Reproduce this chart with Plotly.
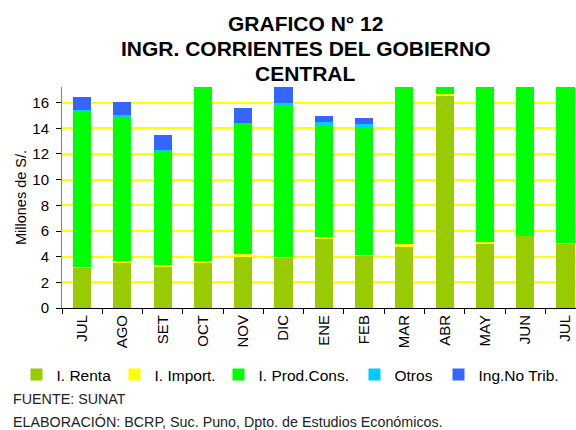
import plotly.graph_objects as go

months = ["JUL", "AGO", "SET", "OCT", "NOV", "DIC", "ENE", "FEB", "MAR", "ABR", "MAY", "JUN", "JUL"]
renta = [3.12, 3.51, 3.19, 3.51, 3.97, 3.90, 5.38, 4.10, 4.81, 16.52, 5.06, 5.61, 4.99]
importaciones = [0.05, 0.13, 0.16, 0.15, 0.24, 0.07, 0.15, 0.02, 0.15, 0.13, 0.08, 0.00, 0.07]
prod_cons = [12.23, 11.24, 8.86, 14.20, 10.15, 11.82, 8.68, 9.93, 13.50, 1.20, 13.00, 13.00, 13.00]
otros = [0.05, 0.16, 0.10, 0.20, 0.08, 0.18, 0.26, 0.26, 0.20, 0.20, 0.20, 0.20, 0.20]
no_trib = [0.99, 0.99, 1.14, 1.20, 1.12, 1.30, 0.49, 0.47, 1.10, 1.00, 1.00, 1.00, 1.00]
y_ticks = [0, 2, 4, 6, 8, 10, 12, 14, 16]

series = [
    ("I. Renta", renta, "#99CC00"),
    ("I. Import.", importaciones, "#FFFF00"),
    ("I. Prod.Cons.", prod_cons, "#00FF00"),
    ("Otros", otros, "#00CCFF"),
    ("Ing.No Trib.", no_trib, "#3366FF"),
]

W, H = 576, 430
ML, MR, MT, MB = 62, 0, 87, 122
PW, PH = W - ML - MR, H - MT - MB

def px_x(x):
    return (x - ML) / PW

def px_y(y):
    return (H - MB - y) / PH

FONT = "Arial, Liberation Sans, sans-serif"
legend_x = [16.5, 114.5, 218.5, 354.5, 438.5]

x = list(range(len(months)))
fig = go.Figure()
for i, (name, vals, col) in enumerate(series):
    lg = "legend" if i == 0 else f"legend{i + 1}"
    fig.add_trace(go.Bar(x=x, y=vals, name=name, legend=lg,
                         marker=dict(color=col, line=dict(width=0)), width=0.45))

legend_common = dict(orientation="h", yanchor="middle", font=dict(size=15.5, family=FONT),
                     bgcolor="rgba(0,0,0,0)", itemwidth=30, borderwidth=0)
layout_legends = {}
for i, lx in enumerate(legend_x):
    key = "legend" if i == 0 else f"legend{i + 1}"
    layout_legends[key] = dict(x=px_x(lx), xanchor="left", y=px_y(375), **legend_common)

fig.update_layout(
    width=W, height=H,
    barmode="stack",
    paper_bgcolor="white", plot_bgcolor="white",
    margin=dict(l=ML, r=MR, t=MT, b=MB, autoexpand=False),
    font=dict(family=FONT, color="black", size=13),
    showlegend=True,
    xaxis=dict(
        range=[-0.5, 12.26], tickmode="array", tickvals=x, ticktext=months,
        tickangle=-90, ticks="", showgrid=False, showline=True, linecolor="black", linewidth=1,
        tickfont=dict(size=15), zeroline=False, fixedrange=True, automargin=False,
        minor=dict(ticks="outside", tick0=-0.5, dtick=1, ticklen=5, tickcolor="black", showgrid=False),
    ),
    yaxis=dict(
        range=[0, 17.22], tickmode="array", tickvals=y_ticks,
        showgrid=True, gridcolor="#FFFF00", gridwidth=1.5,
        showline=True, linecolor="#808080", linewidth=1, ticks="outside", ticklen=5,
        tickcolor="black", tickfont=dict(size=15), zeroline=False, automargin=False,
        ticklabelstandoff=4, fixedrange=True,
        title=dict(text="Millones de S/.", font=dict(size=14.5), standoff=2),
    ),
    **layout_legends,
)

for txt, cy in [("GRAFICO N° 12", 23.5), ("INGR. CORRIENTES DEL GOBIERNO", 48.5), ("CENTRAL", 73.5)]:
    fig.add_annotation(text=f"<b>{txt}</b>", xref="paper", yref="paper",
                       x=px_x(305), y=px_y(cy), xanchor="center", yanchor="middle",
                       showarrow=False, font=dict(size=21, family=FONT, color="black"))

for txt, cy in [("FUENTE: SUNAT", 399), ("ELABORACIÓN: BCRP, Suc. Puno, Dpto. de Estudios Económicos.", 421.5)]:
    fig.add_annotation(text=txt, xref="paper", yref="paper",
                       x=px_x(11), y=px_y(cy), xanchor="left", yanchor="middle", showarrow=False,
                       font=dict(size=14.3, family=FONT, color="#222222"))

fig.write_html("out.html", config={"displayModeBar": False},
               post_script="document.body.style.margin='0';")
